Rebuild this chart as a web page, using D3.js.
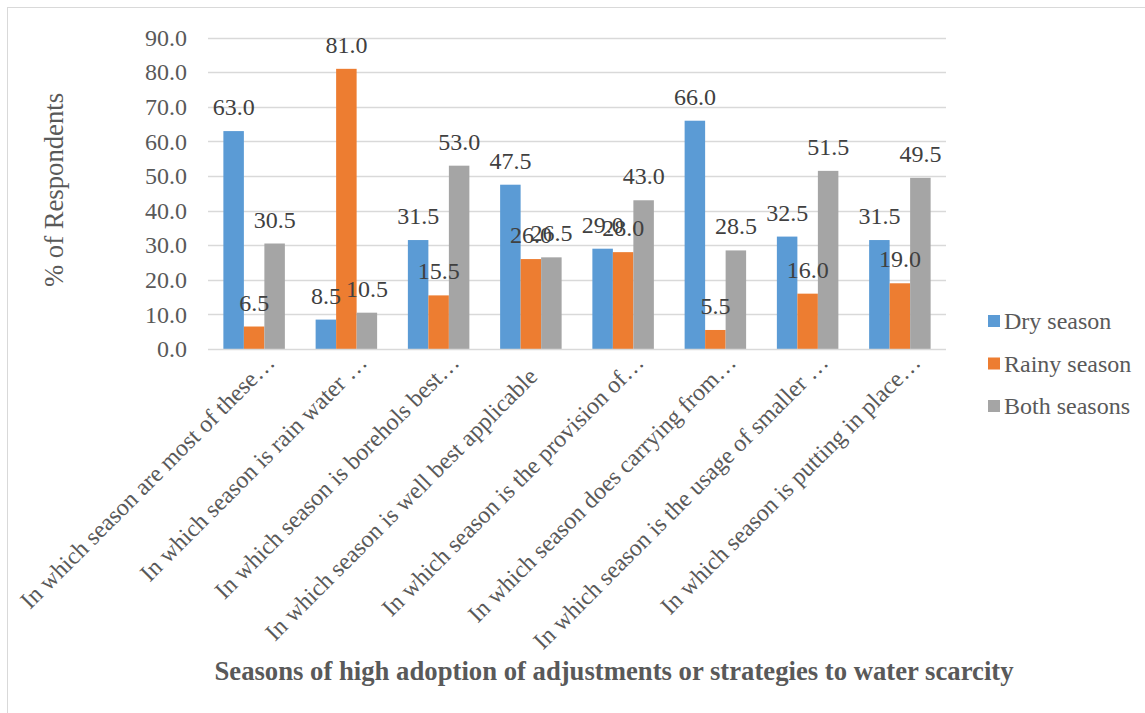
<!DOCTYPE html>
<html>
<head>
<meta charset="utf-8">
<script src="https://cdn.jsdelivr.net/npm/d3@7"></script>
<style>
  body { margin: 0; background: #fff; }
  svg { display: block; }
  svg text { font-family: "Liberation Serif", "Times New Roman", serif; }
</style>
</head>
<body>
<div id="chart"></div>
<script>
// ------------------
// Data
// ------------------
const categories = [
  "In which season are most of these\u2026",
  "In which season is rain water \u2026",
  "In which season is borehols best\u2026",
  "In which season is well best applicable",
  "In which season is the provision of\u2026",
  "In which season does carrying from\u2026",
  "In which season is the usage of smaller \u2026",
  "In which season is putting in place\u2026"
];
const seriesNames = ["Dry season", "Rainy season", "Both seasons"];
const drySeason = [63.0, 8.5, 31.5, 47.5, 29.0, 66.0, 32.5, 31.5];
const rainySeason = [6.5, 81.0, 15.5, 26.0, 28.0, 5.5, 16.0, 19.0];
const bothSeasons = [30.5, 10.5, 53.0, 26.5, 43.0, 28.5, 51.5, 49.5];
const yTicks = [0, 10, 20, 30, 40, 50, 60, 70, 80, 90];
const colors = ["#5B9BD5", "#ED7D31", "#A5A5A5"];

const yTitle = "% of Respondents";
const xTitle = "Seasons of high adoption of adjustments or strategies to water scarcity";

// ------------------
// Layout
// ------------------
const width = 1145, height = 713;
const plot = { left: 208, right: 946, top: 37.7, bottom: 349 };
const serif = "'Liberation Serif', 'Times New Roman', serif";

const svg = d3.select("#chart").append("svg")
  .attr("width", width)
  .attr("height", height);

// chart border (cropped on right/bottom in original)
svg.append("rect")
  .attr("x", 7.5).attr("y", 7.5)
  .attr("width", 1400).attr("height", 900)
  .attr("fill", "none")
  .attr("stroke", "#D9D9D9");

const x0 = d3.scaleBand()
  .domain(categories)
  .range([plot.left, plot.right])
  .paddingInner(1 / 3)
  .paddingOuter(1 / 6);

const x1 = d3.scaleBand()
  .domain(seriesNames)
  .range([0, x0.bandwidth()]);

const y = d3.scaleLinear()
  .domain([0, 90])
  .range([plot.bottom, plot.top]);

// gridlines
svg.append("g")
  .selectAll("line")
  .data(yTicks.filter(d => d > 0))
  .join("line")
  .attr("x1", plot.left).attr("x2", plot.right)
  .attr("y1", d => Math.round(y(d)) + 0.5)
  .attr("y2", d => Math.round(y(d)) + 0.5)
  .attr("stroke", "#D9D9D9")
  .attr("stroke-width", 1.3);

// y axis labels
const yAxis = d3.axisLeft(y)
  .tickValues(yTicks)
  .tickFormat(d3.format(".1f"))
  .tickSize(0)
  .tickPadding(21);

svg.append("g")
  .attr("transform", `translate(${plot.left},0)`)
  .call(yAxis)
  .attr("font-family", serif)
  .call(g => g.select(".domain").remove())
  .call(g => g.selectAll("text")
    .style("font-family", serif)
    .attr("font-size", 24)
    .attr("fill", "#595959"));

// bars
const seriesValues = [drySeason, rainySeason, bothSeasons];
const rows = categories.map((c, i) => ({
  category: c,
  values: seriesNames.map((s, j) => ({ series: s, value: seriesValues[j][i], color: colors[j] }))
}));

const groups = svg.append("g")
  .selectAll("g")
  .data(rows)
  .join("g")
  .attr("transform", d => `translate(${x0(d.category)},0)`);

groups.selectAll("rect")
  .data(d => d.values)
  .join("rect")
  .attr("x", d => x1(d.series))
  .attr("y", d => y(d.value))
  .attr("width", x1.bandwidth())
  .attr("height", d => y(0) - y(d.value))
  .attr("fill", d => d.color);

// data labels (outside end)
groups.selectAll("text")
  .data(d => d.values)
  .join("text")
  .attr("x", d => x1(d.series) + x1.bandwidth() / 2)
  .attr("y", d => y(d.value) - 16)
  .attr("text-anchor", "middle")
  .style("font-family", serif)
  .attr("font-size", 24)
  .attr("fill", "#404040")
  .text(d => d3.format(".1f")(d.value));

// x axis line
svg.append("line")
  .attr("x1", plot.left).attr("x2", plot.right)
  .attr("y1", plot.bottom + 0.5).attr("y2", plot.bottom + 0.5)
  .attr("stroke", "#D9D9D9")
  .attr("stroke-width", 1.5);

// category labels, rotated -45
svg.append("g")
  .selectAll("text")
  .data(categories)
  .join("text")
  .attr("transform", d => {
    const cx = x0(d) + x0.bandwidth() / 2;
    // truncated labels sit a bit further up the diagonal
    const shift = d.endsWith("\u2026") ? 0 : -14;
    return `translate(${cx + 22 + shift},${plot.bottom + 15 - shift}) rotate(-45)`;
  })
  .attr("text-anchor", "end")
  .style("font-family", serif)
  .attr("font-size", 24)
  .attr("fill", "#595959")
  .text(d => d);

// y axis title
svg.append("text")
  .attr("transform", `translate(63,190) rotate(-90)`)
  .attr("text-anchor", "middle")
  .style("font-family", serif)
  .attr("font-size", 26.7)
  .attr("fill", "#595959")
  .text(yTitle);

// x axis title
svg.append("text")
  .attr("x", 614)
  .attr("y", 680)
  .attr("text-anchor", "middle")
  .style("font-family", serif)
  .attr("font-size", 26.7)
  .attr("font-weight", "bold")
  .attr("fill", "#595959")
  .text(xTitle);

// legend
const legend = svg.append("g")
  .attr("transform", "translate(988,321)")
  .selectAll("g")
  .data(seriesNames)
  .join("g")
  .attr("transform", (d, i) => `translate(0,${i * 42.5})`);

legend.append("rect")
  .attr("x", 0).attr("y", -6)
  .attr("width", 12).attr("height", 12)
  .attr("fill", (d, i) => colors[i]);

legend.append("text")
  .attr("x", 16)
  .attr("y", 8)
  .style("font-family", serif)
  .attr("font-size", 24)
  .attr("fill", "#595959")
  .text(d => d);
</script>
</body>
</html>
